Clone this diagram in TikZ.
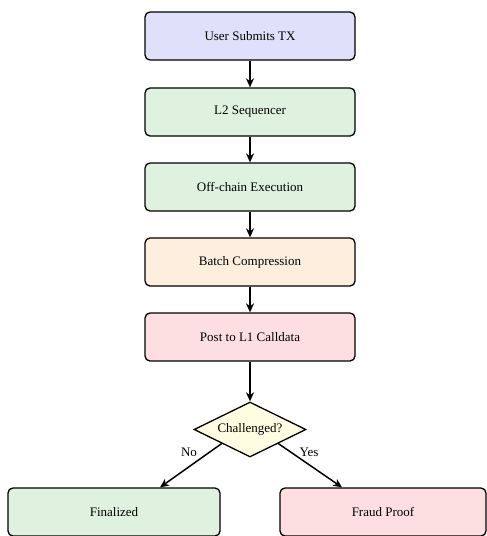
\documentclass[tikz,border=0pt]{standalone}
\usepackage{fontspec}
\setmainfont{Liberation Serif}
\usetikzlibrary{shapes.geometric,arrows.meta,calc}
\definecolor{cblue}{HTML}{E0E0FA}
\definecolor{cgreen}{HTML}{DFF1DF}
\definecolor{corange}{HTML}{FDEEDE}
\definecolor{cpink}{HTML}{FDDFE1}
\definecolor{cyellow}{HTML}{FFFDE1}
\tikzset{
  stepbox/.style={draw=black, line width=1.3pt, rounded corners=5pt, minimum width=210pt, minimum height=48pt, inner sep=0pt, font=\fontsize{13}{15}\selectfont},
  decision/.style={draw=black, line width=1.3pt, diamond, aspect=2, minimum width=112pt, minimum height=55pt, inner sep=0pt, fill=cyellow, font=\fontsize{13}{15}\selectfont},
  flow/.style={draw=black, line width=1.5pt, -{Stealth[length=9pt,width=8pt]}},
  lbl/.style={font=\fontsize{13}{15}\selectfont, inner sep=0pt}
}
\begin{document}
\begin{tikzpicture}[x=1pt,y=1pt]
\useasboundingbox (0,0) rectangle (487,-536);
\node[stepbox, fill=cblue] (a) at (250,-36) {User Submits TX};
\node[stepbox, fill=cgreen] (b) at (250,-112) {L2 Sequencer};
\node[stepbox, fill=cgreen] (c) at (250,-187) {Off-chain Execution};
\node[stepbox, fill=corange] (d) at (250,-262) {Batch Compression};
\node[stepbox, fill=cpink] (e) at (250,-337) {Post to L1 Calldata};
\node[decision] (q) at (250,-429.5) {Challenged?};
\node[stepbox, fill=cgreen, minimum width=212pt] (f) at (114,-512) {Finalized};
\node[stepbox, fill=cpink, minimum width=206pt] (g) at (383,-512) {Fraud Proof};
\draw[flow] (a) -- (b);
\draw[flow] (b) -- (c);
\draw[flow] (c) -- (d);
\draw[flow] (d) -- (e);
\draw[flow] (e) -- (q);
\draw[flow] (q.south west) -- ($(f.north)+(46,0)$);
\draw[flow] (q.south east) -- ($(g.north)+(-41,0)$);
\node[lbl] (no) at (189,-452) {No};
\node[lbl] (yes) at (309,-452) {Yes};
\end{tikzpicture}
\end{document}
